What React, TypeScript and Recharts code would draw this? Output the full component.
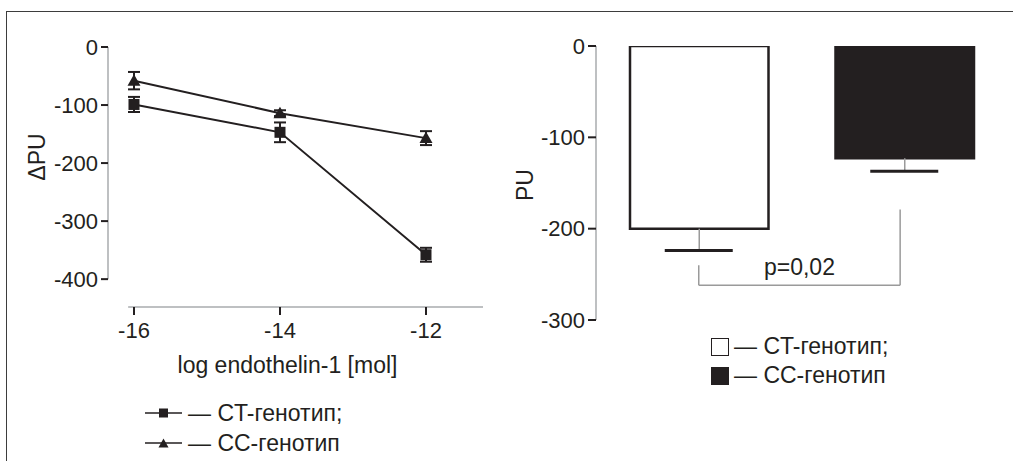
import React from 'react';
import {
  LineChart,
  ComposedChart,
  Line,
  Bar,
  Cell,
  XAxis,
  YAxis,
  ErrorBar,
  ReferenceLine,
  Legend,
  Label,
} from 'recharts';

const FONT = '"Liberation Sans", Arial, Helvetica, sans-serif';
const INK = '#231f20';
const AXIS_GRAY = '#a9abae';
const STEM_GRAY = '#9a9a9a';

// ---------- Left chart data ----------
const logDose = [-16, -14, -12];
const ctMean = [-99, -147, -358];
const ctErr = [13, 17, 12];
const ccMean = [-58, -114, -157];
const ccErr = [15, 5, 12];
const leftYTicks = [0, -100, -200, -300, -400];
const leftXTicks = [-16, -14, -12];
const lineSeriesNames = ['CT-генотип;', 'CC-генотип'];
const leftXTitle = 'log endothelin-1 [mol]';
const leftYTitle = 'ΔPU';

// ---------- Right chart data ----------
const genotypes = ['CT', 'CC'];
const genotypeNames = ['CT-генотип;', 'CC-генотип'];
const puMean = [-200, -123];
const puErr = [24, 14];
const barFills = ['#ffffff', INK];
const rightYTicks = [0, -100, -200, -300];
const rightYTitle = 'PU';
const pValueText = 'p=0,02';

const lineData = logDose.map((x, i) => ({
  x,
  ct: ctMean[i],
  ctErr: ctErr[i],
  cc: ccMean[i],
  ccErr: ccErr[i],
}));

const barData = genotypes.map((g, i) => ({
  g,
  v: puMean[i],
  err: [puErr[i], 0],
  cap: puMean[i] - puErr[i],
}));

const tickStyle = { fill: INK, fontSize: 22, fontFamily: FONT };
const titleStyle = { fill: INK, fontSize: 23, fontFamily: FONT };

const SquareDot = (props: any) => {
  const { cx, cy, index } = props;
  if (cx == null || cy == null) return null;
  return <rect key={`sq-${index}`} x={cx - 5.5} y={cy - 5.5} width={11} height={11} fill={INK} />;
};

const TriDot = (props: any) => {
  const { cx, cy, index } = props;
  if (cx == null || cy == null) return null;
  return (
    <polygon
      key={`tri-${index}`}
      points={`${cx},${cy - 6.5} ${cx + 6.5},${cy + 5} ${cx - 6.5},${cy + 5}`}
      fill={INK}
    />
  );
};

const CapDot = (props: any) => {
  const { cx, cy, index } = props;
  if (cx == null || cy == null) return null;
  return (
    <line key={`cap-${index}`} x1={cx - 34} x2={cx + 34} y1={cy} y2={cy} stroke={INK} strokeWidth={3} />
  );
};

const renderLineLegend = () => (
  <div style={{ fontFamily: FONT, fontSize: 23, color: INK }}>
    {lineSeriesNames.map((n, i) => (
      <div key={n} style={{ display: 'flex', alignItems: 'center', height: 30 }}>
        <svg width={38} height={20} style={{ display: 'block' }}>
          <line x1={0} x2={37} y1={10} y2={10} stroke={INK} strokeWidth={1.5} />
          {i === 0 ? (
            <rect x={14} y={5.5} width={9} height={9} fill={INK} />
          ) : (
            <polygon points="18.5,5.5 23.5,14.5 13.5,14.5" fill={INK} />
          )}
        </svg>
        <span style={{ marginLeft: 5, whiteSpace: 'nowrap' }}>— {n}</span>
      </div>
    ))}
  </div>
);

const renderBarLegend = () => (
  <div style={{ fontFamily: FONT, fontSize: 23, color: INK }}>
    {genotypeNames.map((n, i) => (
      <div key={n} style={{ display: 'flex', alignItems: 'center', height: 29 }}>
        <span
          style={{
            display: 'inline-block',
            width: 18,
            height: 18,
            boxSizing: 'border-box',
            background: barFills[i],
            border: `1.5px solid ${INK}`,
          }}
        />
        <span style={{ marginLeft: 5, whiteSpace: 'nowrap' }}>— {n}</span>
      </div>
    ))}
  </div>
);

const X_MIN = -16.356;
const X_MAX = -11.219;
const Y_MIN = -448;

function LeftChart() {
  return (
    <LineChart width={500} height={461} data={lineData} margin={{ top: 47, right: 17, bottom: 94, left: 0 }}>
      <XAxis
        dataKey="x"
        type="number"
        domain={[X_MIN, X_MAX]}
        allowDataOverflow
        ticks={leftXTicks}
        interval={0}
        axisLine={false}
        tickLine={{ stroke: INK, strokeWidth: 2 }}
        tickSize={8}
        tickMargin={7}
        height={60}
        tick={tickStyle}
      >
        <Label value={leftXTitle} position="bottom" offset={-10} dx={-8} style={titleStyle} />
      </XAxis>
      <YAxis
        type="number"
        domain={[Y_MIN, 0]}
        allowDataOverflow
        ticks={leftYTicks}
        interval={0}
        axisLine={false}
        tickLine={{ stroke: INK, strokeWidth: 2 }}
        tickSize={7}
        tickMargin={3}
        width={108}
        tick={tickStyle}
      >
        <Label
          value={leftYTitle}
          angle={-90}
          position="insideLeft"
          offset={37}
          dy={-20}
          style={{ ...titleStyle, textAnchor: 'middle' }}
        />
      </YAxis>
      <ReferenceLine
        segment={[{ x: X_MIN, y: 0 }, { x: X_MIN, y: leftYTicks[leftYTicks.length - 1] }]}
        stroke={AXIS_GRAY}
        strokeWidth={1.5}
        ifOverflow="visible"
      />
      <ReferenceLine
        segment={[{ x: -16.08, y: Y_MIN }, { x: X_MAX, y: Y_MIN }]}
        stroke={AXIS_GRAY}
        strokeWidth={1.5}
        ifOverflow="visible"
      />
      <Line
        dataKey="ct"
        name={lineSeriesNames[0]}
        stroke={INK}
        strokeWidth={2}
        dot={SquareDot}
        activeDot={false}
        isAnimationActive={false}
      >
        <ErrorBar dataKey="ctErr" direction="y" width={6} stroke={INK} strokeWidth={2} />
      </Line>
      <Line
        dataKey="cc"
        name={lineSeriesNames[1]}
        stroke={INK}
        strokeWidth={2}
        dot={TriDot}
        activeDot={false}
        isAnimationActive={false}
      >
        <ErrorBar dataKey="ccErr" direction="y" width={6} stroke={INK} strokeWidth={2} />
      </Line>
      <Legend
        layout="vertical"
        align="center"
        verticalAlign="middle"
        content={renderLineLegend}
        wrapperStyle={{ position: 'absolute', left: 145, top: 398, width: 'auto', height: 'auto' }}
      />
    </LineChart>
  );
}

function RightChart() {
  return (
    <ComposedChart width={513} height={461} data={barData} margin={{ top: 46, right: 6, bottom: 141, left: 0 }}>
      <XAxis
        dataKey="g"
        orientation="top"
        height={0}
        tick={false}
        tickLine={false}
        axisLine={{ stroke: AXIS_GRAY, strokeWidth: 1.5 }}
      />
      <XAxis xAxisId="n" type="number" domain={[0, 1]} allowDataOverflow hide />
      <YAxis
        type="number"
        domain={[rightYTicks[rightYTicks.length - 1], 0]}
        allowDataOverflow
        ticks={rightYTicks}
        interval={0}
        axisLine={{ stroke: AXIS_GRAY, strokeWidth: 1.5 }}
        tickLine={{ stroke: INK, strokeWidth: 2 }}
        tickSize={8}
        tickMargin={3}
        width={96}
        tick={tickStyle}
      >
        <Label
          value={rightYTitle}
          angle={-90}
          position="insideLeft"
          offset={25}
          dy={2}
          style={{ ...titleStyle, textAnchor: 'middle' }}
        />
      </YAxis>
      <Bar dataKey="v" barSize={138.5} strokeWidth={2.5} isAnimationActive={false} legendType="none">
        {barData.map((d, i) => (
          <Cell key={d.g} fill={barFills[i]} stroke={INK} />
        ))}
        <ErrorBar dataKey="err" direction="y" width={0} stroke={STEM_GRAY} strokeWidth={1.5} />
      </Bar>
      <Line
        dataKey="cap"
        stroke="none"
        dot={CapDot}
        activeDot={false}
        legendType="none"
        isAnimationActive={false}
      />
      <ReferenceLine
        xAxisId="n"
        segment={[{ x: 0.25, y: -240 }, { x: 0.25, y: -262 }]}
        stroke={STEM_GRAY}
        strokeWidth={1.5}
        ifOverflow="visible"
      />
      <ReferenceLine
        xAxisId="n"
        segment={[{ x: 0.25, y: -262 }, { x: 0.74, y: -262 }]}
        stroke={STEM_GRAY}
        strokeWidth={1.5}
        ifOverflow="visible"
      >
        <Label value={pValueText} position="top" offset={10} style={titleStyle} />
      </ReferenceLine>
      <ReferenceLine
        xAxisId="n"
        segment={[{ x: 0.74, y: -179 }, { x: 0.74, y: -262 }]}
        stroke={STEM_GRAY}
        strokeWidth={1.5}
        ifOverflow="visible"
      />
      <Legend
        layout="vertical"
        align="center"
        verticalAlign="middle"
        content={renderBarLegend}
        wrapperStyle={{ position: 'absolute', left: 211, top: 332, width: 'auto', height: 'auto' }}
      />
    </ComposedChart>
  );
}

export default function App() {
  return (
    <div
      style={{
        position: 'absolute',
        left: 0,
        top: 0,
        width: 1013,
        height: 461,
        background: '#ffffff',
        overflow: 'hidden',
        fontFamily: FONT,
      }}
    >
      <div
        style={{
          position: 'absolute',
          left: 6,
          top: 11,
          width: 1013 - 6,
          height: 461 - 11,
          borderTop: '1.5px solid #3d3d3d',
          borderLeft: '1.5px solid #3d3d3d',
          boxSizing: 'border-box',
        }}
      />
      <div style={{ position: 'absolute', left: 0, top: 0 }}>
        <LeftChart />
      </div>
      <div style={{ position: 'absolute', left: 500, top: 0 }}>
        <RightChart />
      </div>
    </div>
  );
}
